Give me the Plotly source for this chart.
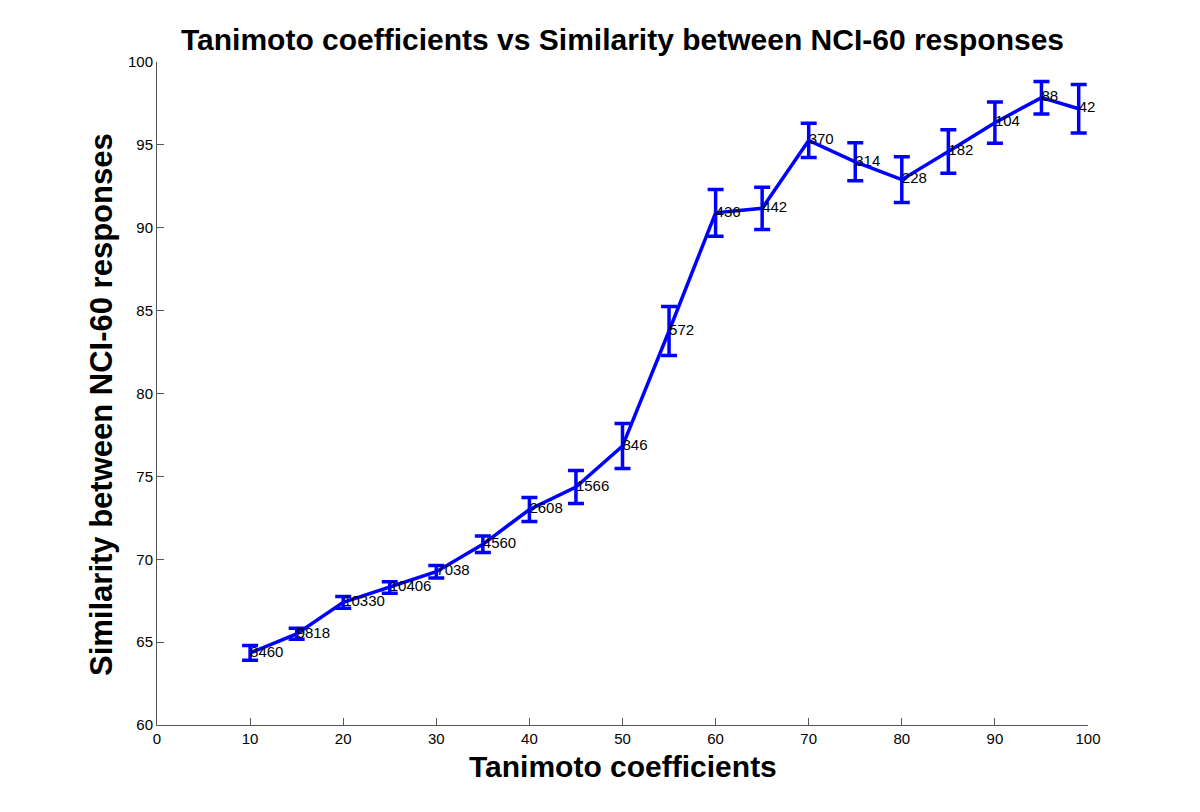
import plotly.graph_objects as go

tanimoto = [10, 15, 20, 25, 30, 35, 40, 45, 50, 55, 60, 65, 70, 75, 80, 85, 90, 95, 99]
similarity = [64.35, 65.5, 67.4, 68.3, 69.25, 70.9, 73.0, 74.36, 76.83, 83.77, 90.9, 91.17,
              95.27, 93.98, 92.9, 94.6, 96.34, 97.85, 97.18]
errors = [0.45, 0.33, 0.35, 0.35, 0.38, 0.5, 0.72, 1.0, 1.36, 1.48, 1.41, 1.28,
          1.03, 1.15, 1.38, 1.31, 1.24, 0.98, 1.46]
counts = ["8460", "9818", "10330", "10406", "7038", "4560", "2608", "1566", "846", "572",
          "436", "442", "370", "314", "228", "182", "104", "88", "42"]

x_ticks = [0, 10, 20, 30, 40, 50, 60, 70, 80, 90, 100]
y_ticks = [60, 65, 70, 75, 80, 85, 90, 95, 100]

blue = "rgb(0,0,255)"
font = "Liberation Sans, Arial, sans-serif"

W, H = 1200, 812
OFF = 7  # page body offset
L, R, T, B = 156 - OFF, 113 + OFF, 61 - OFF, 88 + OFF
pw, ph = W - L - R, H - T - B
plot_left, plot_bottom = 156, 724

fig = go.Figure()
fig.add_trace(go.Scatter(
    x=tanimoto, y=similarity,
    mode="lines+text",
    text=counts,
    textposition="middle right",
    textfont=dict(family=font, size=15, color="black"),
    line=dict(color=blue, width=3.5),
    error_y=dict(type="data", array=errors, visible=True, color=blue, thickness=3.5, width=8),
    showlegend=False,
    cliponaxis=False,
))

axis_common = dict(
    showgrid=False, zeroline=False, showline=True, linecolor="#555", linewidth=1,
    ticks="inside", ticklen=7, tickcolor="#555", tickwidth=1, automargin=False,
    tickfont=dict(family=font, size=15, color="black"), mirror=False,
)

fig.update_layout(
    width=W, height=H,
    paper_bgcolor="white", plot_bgcolor="white",
    margin=dict(l=L, r=R, t=T, b=B, autoexpand=False),
    title=dict(text="<b>Tanimoto coefficients vs Similarity between NCI-60 responses</b>",
               x=0.5, xref="paper", y=1 - (38 - OFF) / H, yref="container", xanchor="center", yanchor="middle",
               automargin=False,
               font=dict(family=font, size=30, color="black")),
    xaxis=dict(range=[0, 100], tickvals=x_ticks, **axis_common),
    yaxis=dict(range=[60, 100], tickvals=y_ticks, **axis_common),
    annotations=[
        dict(text="<b>Tanimoto coefficients</b>", xref="paper", yref="paper",
             x=0.5, y=(plot_bottom - 765) / ph, xanchor="center", yanchor="middle", showarrow=False,
             font=dict(family=font, size=30, color="black")),
        dict(text="<b>Similarity between NCI-60 responses</b>", xref="paper", yref="paper",
             x=(101 - plot_left) / pw, y=(plot_bottom - 404) / ph, xanchor="center", yanchor="middle",
             textangle=-90, showarrow=False,
             font=dict(family=font, size=31, color="black")),
    ],
)

fig.write_html("out.html")
